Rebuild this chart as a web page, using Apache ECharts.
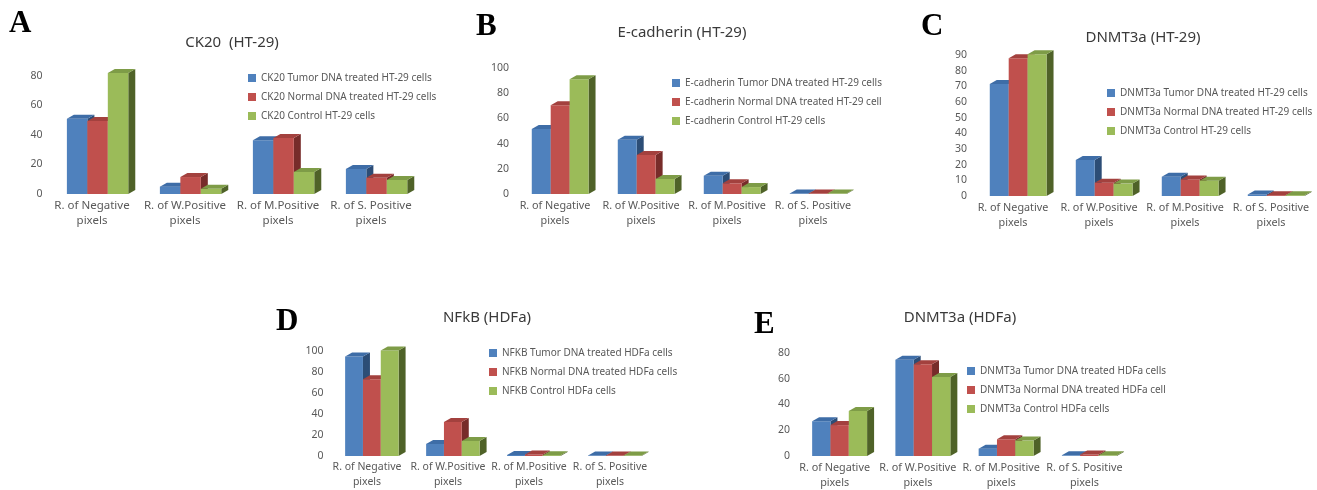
<!DOCTYPE html>
<html>
<head>
<meta charset="utf-8">
<script src="https://cdn.jsdelivr.net/npm/echarts@6/dist/echarts.min.js"></script>
<style>
  html, body { margin: 0; padding: 0; background: #fff; }
  #chart { width: 1317px; height: 490px; }
</style>
</head>
<body>
<div id="chart"></div>
<script>
const categories = ['R. of Negative\npixels', 'R. of W.Positive\npixels', 'R. of M.Positive\npixels', 'R. of S. Positive\npixels']

// A: CK20 (HT-29)
const ck20Names = ['CK20 Tumor DNA treated HT-29 cells', 'CK20 Normal DNA treated HT-29 cells', 'CK20 Control HT-29 cells']
const ck20Tumor = [51, 5, 36.5, 17]
const ck20Normal = [49.5, 11.5, 38, 11]
const ck20Control = [82, 3.5, 15, 9.5]

// B: E-cadherin (HT-29)
const ecadNames = ['E-cadherin Tumor DNA treated HT-29 cells', 'E-cadherin Normal DNA treated HT-29 cell', 'E-cadherin Control HT-29 cells']
const ecadTumor = [51.5, 43, 14.5, 0.4]
const ecadNormal = [70.5, 31, 8.5, 0.4]
const ecadControl = [91, 12, 5.5, 0.4]

// C: DNMT3a (HT-29)
const dnmtHtNames = ['DNMT3a Tumor DNA treated HT-29 cells', 'DNMT3a Normal DNA treated HT-29 cells', 'DNMT3a Control HT-29 cells']
const dnmtHtTumor = [71.5, 23, 12.3, 1]
const dnmtHtNormal = [88, 8.5, 10.6, 0.5]
const dnmtHtControl = [90.4, 7.9, 9.8, 0.5]

// D: NFkB (HDFa)
const nfkbNames = ['NFKB Tumor DNA treated HDFa cells', 'NFKB Normal DNA treated HDFa cells', 'NFKB Control HDFa cells']
const nfkbTumor = [94.7, 11.5, 1, 0.5]
const nfkbNormal = [73, 32.4, 1.5, 0.5]
const nfkbControl = [100.5, 14.3, 0.8, 0.5]

// E: DNMT3a (HDFa)
const dnmtHdNames = ['DNMT3a Tumor DNA treated HDFa cells', 'DNMT3a Normal DNA treated HDFa cell', 'DNMT3a Control HDFa cells']
const dnmtHdTumor = [27, 74.8, 5.7, 0.5]
const dnmtHdNormal = [24, 71.3, 13, 1.2]
const dnmtHdControl = [35, 61.3, 12, 0.5]

const faces = [
  { front: '#4F81BD', top: '#3E6DA7', side: '#2C4D76' },
  { front: '#C0504D', top: '#A3413E', side: '#772C2A' },
  { front: '#9BBB59', top: '#7E9C47', side: '#4F6228' }
]
const FONT = 'Noto Sans'
const txt = '#595959'

const panels = [
  { names: ck20Names, vals: [ck20Tumor, ck20Normal, ck20Control], max: 80, step: 20, catFont: 11.5,
    grid: { left: 45.5, top: 76, width: 372, height: 118 }, legend: { left: 243, top: 67 } },
  { names: ecadNames, vals: [ecadTumor, ecadNormal, ecadControl], max: 100, step: 20, catFont: 10.8,
    grid: { left: 512, top: 68, width: 344, height: 126 }, legend: { left: 667, top: 72 } },
  { names: dnmtHtNames, vals: [dnmtHtTumor, dnmtHtNormal, dnmtHtControl], max: 90, step: 10, catFont: 10.8,
    grid: { left: 970, top: 55, width: 344, height: 141 }, legend: { left: 1102, top: 82 } },
  { names: nfkbNames, vals: [nfkbTumor, nfkbNormal, nfkbControl], max: 100, step: 20, catFont: 10.5,
    grid: { left: 326.5, top: 351, width: 324, height: 107 }, legend: { left: 484, top: 342 } },
  { names: dnmtHdNames, vals: [dnmtHdTumor, dnmtHdNormal, dnmtHdControl], max: 80, step: 20, catFont: 10.8,
    grid: { left: 793, top: 353, width: 333, height: 107 }, legend: { left: 962, top: 360 } }
]

const titles = [
  { text: 'CK20  (HT-29)', x: 232, y: 43 },
  { text: 'E-cadherin (HT-29)', x: 682, y: 33 },
  { text: 'DNMT3a (HT-29)', x: 1143, y: 38 },
  { text: 'NFkB (HDFa)', x: 487, y: 318 },
  { text: 'DNMT3a (HDFa)', x: 960, y: 318 }
]
const letters = [
  { text: 'A', x: 9, y: 24 }, { text: 'B', x: 476, y: 27 }, { text: 'C', x: 921, y: 27 },
  { text: 'D', x: 276, y: 322 }, { text: 'E', x: 754, y: 325 }
]

// fake 3D column: front face, top face, right side face
function bar3d(k) {
  return function (params, api) {
    const base = api.coord([api.value(0), 0])
    const top = api.coord([api.value(0), api.value(1)])
    const cw = api.size([1, 0])[0]
    const bw = cw * 0.22
    const dx = 7, dy = 4
    const x0 = base[0] + cw * 0.06 - 1.5 * bw + k * bw
    const x1 = x0 + bw, y0 = base[1], yt = top[1]
    const f = faces[k]
    return {
      type: 'group',
      children: [
        { type: 'polygon', shape: { points: [[x1, yt], [x1 + dx, yt - dy], [x1 + dx, y0 - dy], [x1, y0]] }, style: { fill: f.side } },
        { type: 'rect', shape: { x: x0, y: yt, width: bw, height: y0 - yt }, style: { fill: f.front } },
        { type: 'polygon', shape: { points: [[x0, yt], [x1, yt], [x1 + dx, yt - dy], [x0 + dx, yt - dy]] }, style: { fill: f.top } }
      ]
    }
  }
}

const chart = echarts.init(document.getElementById('chart'), null, { renderer: 'canvas' })

const option = {
  animation: false,
  backgroundColor: '#fff',
  grid: panels.map(p => p.grid),
  xAxis: panels.map((p, i) => ({
    type: 'category', gridIndex: i, data: categories,
    axisLine: { show: false }, axisTick: { show: false }, splitLine: { show: false },
    axisLabel: { interval: 0, color: txt, fontFamily: FONT, fontSize: p.catFont, lineHeight: 15, margin: 4 }
  })),
  yAxis: panels.map((p, i) => ({
    type: 'value', gridIndex: i, min: 0, max: p.max, interval: p.step,
    axisLine: { show: false }, axisTick: { show: false }, splitLine: { show: false },
    axisLabel: { color: txt, fontFamily: FONT, fontSize: 10.5, margin: 3 }
  })),
  legend: panels.map(p => ({
    data: p.names, left: p.legend.left, top: p.legend.top, orient: 'vertical',
    icon: 'rect', itemWidth: 8, itemHeight: 8, itemGap: 7,
    textStyle: { color: txt, fontFamily: FONT, fontSize: 10, lineHeight: 12 }
  })),
  graphic: [
    ...titles.map(t => ({ type: 'text', x: t.x, y: t.y,
      style: { text: t.text, fill: '#3a3a3a', font: '15px "Noto Sans"', align: 'center', verticalAlign: 'middle' } })),
    ...letters.map(t => ({ type: 'text', x: t.x, y: t.y,
      style: { text: t.text, fill: '#000', font: 'bold 31px "Liberation Serif"', align: 'left', verticalAlign: 'middle' } }))
  ],
  series: panels.flatMap((p, i) => p.vals.map((vals, k) => ({
    type: 'custom', name: p.names[k], xAxisIndex: i, yAxisIndex: i, z: 2 + k,
    itemStyle: { color: faces[k].front },
    encode: { x: 0, y: 1 },
    data: vals.map((v, c) => [c, v]),
    renderItem: bar3d(k)
  })))
}

chart.setOption(option)
window.addEventListener('resize', () => chart.resize())
</script>
</body>
</html>
